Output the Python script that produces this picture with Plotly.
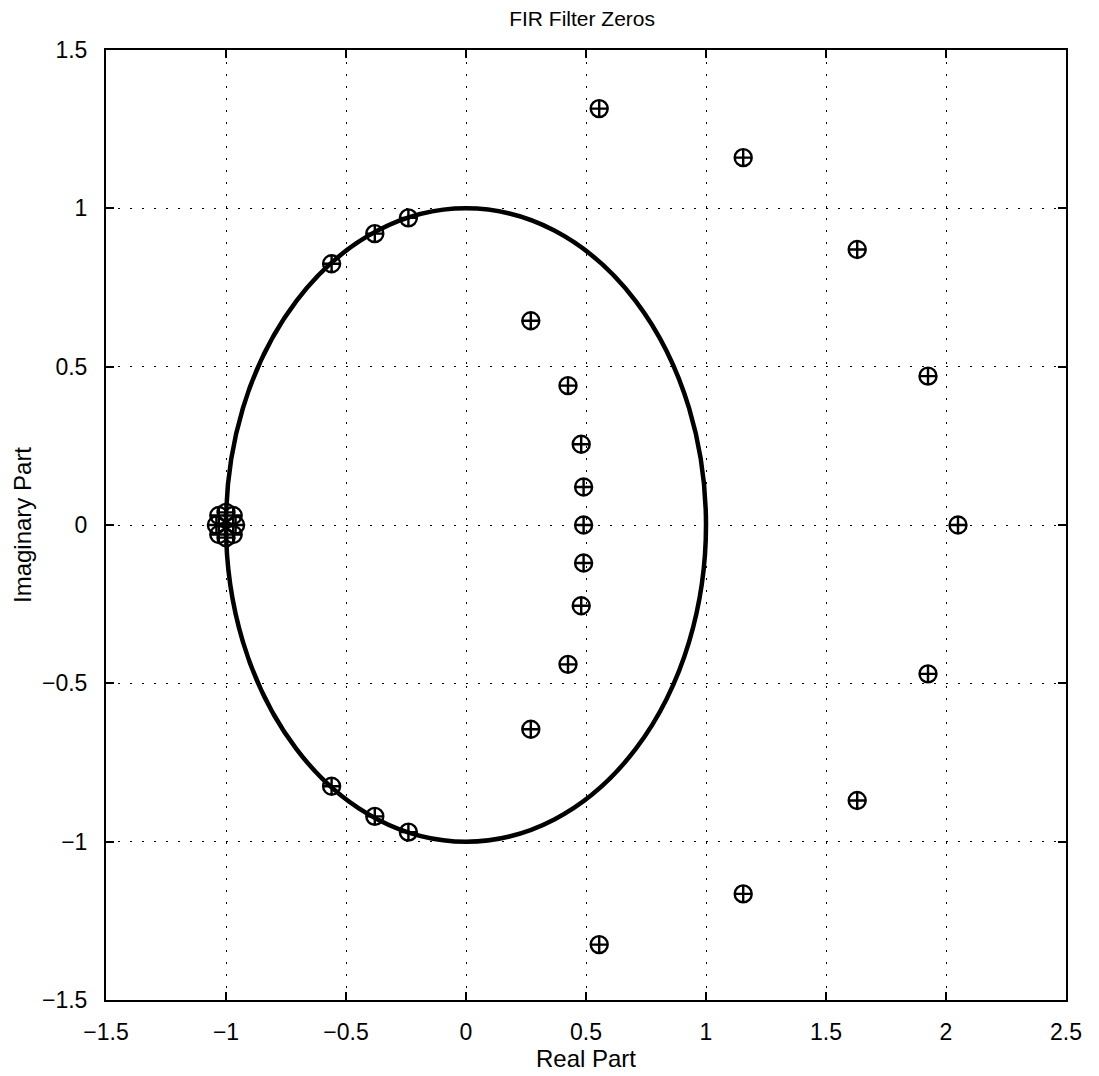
import plotly.graph_objects as go

# Zeros
re_inside = [0.27, 0.27, 0.425, 0.425, 0.48, 0.48, 0.49, 0.49, 0.49]
im_inside = [0.645, -0.645, 0.44, -0.44, 0.255, -0.255, 0.12, -0.12, 0.0]

re_outside = [0.555, 0.555, 1.155, 1.155, 1.63, 1.63, 1.925, 1.925, 2.05]
im_outside = [1.315, -1.325, 1.16, -1.165, 0.87, -0.87, 0.47, -0.47, 0.0]

re_unit = [-0.56, -0.56, -0.38, -0.38, -0.24, -0.24]
im_unit = [0.825, -0.825, 0.92, -0.92, 0.97, -0.97]

re_cluster = [-0.96, -0.97, -1.0, -1.03, -1.04, -1.03, -1.0, -0.97]
im_cluster = [0.0, 0.03, 0.04, 0.03, 0.0, -0.03, -0.04, -0.03]

x_ticks = [-1.5, -1, -0.5, 0, 0.5, 1, 1.5, 2, 2.5]
y_ticks = [-1.5, -1, -0.5, 0, 0.5, 1, 1.5]

xs = re_inside + re_outside + re_unit + re_cluster
ys = im_inside + im_outside + im_unit + im_cluster

fig = go.Figure()
fig.add_shape(type="circle", xref="x", yref="y", x0=-1, y0=-1, x1=1, y1=1,
              line=dict(color="black", width=4.5), layer="above")
fig.add_trace(go.Scatter(
    x=xs, y=ys, mode="markers",
    marker=dict(symbol="circle-cross-open", size=17, color="black",
                line=dict(width=2.4, color="black")),
    showlegend=False, cliponaxis=False))

fam = "Liberation Sans, Arial, Helvetica, sans-serif"
tickfont = dict(family=fam, size=23, color="black")
labfont = dict(family=fam, size=24, color="black")
axis_common = dict(
    showgrid=True, gridcolor="black", gridwidth=1, griddash="2px,10px",
    zeroline=False, showline=True, linecolor="black", linewidth=2,
    mirror="ticks", ticks="inside", ticklen=8, tickwidth=1.5, tickcolor="black",
    tickfont=tickfont,
)
fig.update_layout(
    width=1099, height=1076,
    margin=dict(l=98, r=41, t=42, b=84),
    paper_bgcolor="white", plot_bgcolor="white",
    title=dict(text="FIR Filter Zeros", x=(553 - 8) / 1099, xanchor="center", xref="paper",
               y=1 - 11 / 1076, yanchor="middle",
               font=dict(family=fam, size=21, color="black")),
    xaxis=dict(range=[-1.5, 2.5], tickvals=x_ticks, ticklabelstandoff=10, **axis_common,
               title=dict(text="Real Part", font=labfont, standoff=2)),
    yaxis=dict(range=[-1.5, 1.5], tickvals=y_ticks, ticklabelstandoff=12, **axis_common,
               title=dict(text="Imaginary Part", font=labfont, standoff=4)),
    font=tickfont,
)
fig.write_html("out.html")
